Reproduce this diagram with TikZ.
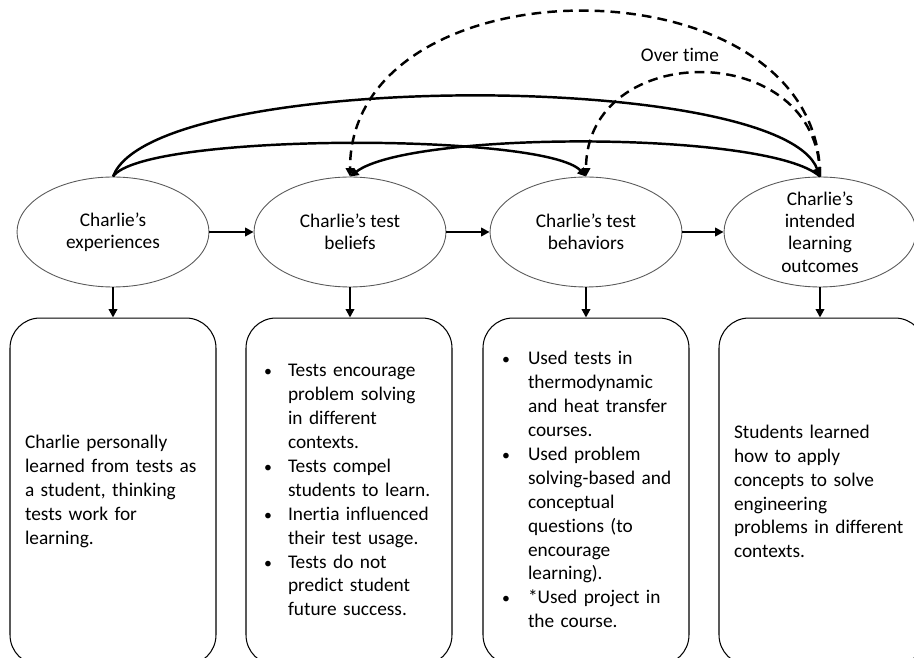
\documentclass[tikz,border=0pt]{standalone}
\usepackage{fontspec}
\setmainfont{Carlito}[Ligatures=NoCommon]
\usepackage{enumitem}
\usetikzlibrary{shapes,arrows.meta,positioning}

\begin{document}
\begin{tikzpicture}[
    x=0.02cm, y=-0.02cm,
    font={\fontsize{11}{13.6}\selectfont},
    oval/.style={ellipse, draw=black!65, line width=0.5pt, minimum width=3.84cm, minimum height=2.2cm, inner sep=0pt},
    ovaltext/.style={align=center, font={\fontsize{11}{12.8}\selectfont}},
    card/.style={rectangle, draw, line width=0.6pt, rounded corners=0.6cm, minimum width=4.12cm, minimum height=6.94cm, inner xsep=0.3cm, text width=3.52cm, align=left},
    arrow/.style={line width=1.4pt, -{Triangle[length=1.7mm,width=1.7mm]}},
    dasharrow/.style={arrow, dash pattern=on 5.5pt off 3.5pt}
]
    \useasboundingbox (0,0) rectangle (914,658);

    \node[oval] (exp) at (113,232) {};
    \node[oval] (bel) at (350,232) {};
    \node[oval] (beh) at (586,232) {};
    \node[oval] (out) at (820,232) {};

    \node[ovaltext] (exptxt) at (exp) {Charlie’s\\experiences};
    \node[ovaltext] (beltxt) at (bel) {Charlie’s test\\beliefs};
    \node[ovaltext] (behtxt) at (beh) {Charlie’s test\\behaviors};
    \node[ovaltext] (outtxt) at (out) {Charlie’s\\intended\\learning\\outcomes};

    \node[card] (expbox) at (113,491.5) {Charlie personally\\learned from tests as\\a student, thinking\\tests work for\\learning.};
    \node[card] (belbox) at (349,491.5) {\vspace*{-8pt}%
        \begin{itemize}[label={\small\textbullet}, leftmargin=0.54cm, labelsep=0.32cm, nosep]
        \item Tests encourage\\problem solving\\in different\\contexts.
        \item Tests compel\\students to learn.
        \item Inertia influenced\\their test usage.
        \item Tests do not\\predict student\\future success.
        \end{itemize}};
    \node[card] (behbox) at (586,491.5) {\vspace*{-8pt}%
        \begin{itemize}[label={\small\textbullet}, leftmargin=0.6cm, labelsep=0.36cm, nosep]
        \item Used tests in\\thermodynamic\\and heat transfer\\courses.
        \item Used problem\\solving-based and\\conceptual\\questions (to\\encourage\\learning).
        \item *Used project in\\the course.
        \end{itemize}};
    \node[card] (outbox) at (822,491.5) {Students learned\\how to apply\\concepts to solve\\engineering\\problems in different\\contexts.};

    \draw[arrow] (exp) -- (bel);
    \draw[arrow] (bel) -- (beh);
    \draw[arrow] (beh) -- (out);

    \draw[arrow] (exp.south) -- (exp.south |- expbox.north);
    \draw[arrow] (bel.south) -- (bel.south |- belbox.north);
    \draw[arrow] (beh.south) -- (beh.south |- behbox.north);
    \draw[arrow] (out.south) -- (out.south |- outbox.north);

    \draw[arrow] (exp.north) .. controls +(40,-107) and +(-40,-107) .. (out.north);
    \draw[arrow] (exp.north) .. controls +(30,-44) and +(-40,-44) .. (beh.north);
    \draw[arrow] (out.north) .. controls +(-50,-46) and +(60,-46) .. (bel.north);
    \draw[dasharrow] (out.north) .. controls +(0,-220) and +(0,-220) .. (bel.north);
    \draw[dasharrow] (out.north) .. controls +(0,-138) and +(0,-138) .. (beh.north);

    \node (overtime) at (680,55) {Over time};
\end{tikzpicture}
\end{document}
